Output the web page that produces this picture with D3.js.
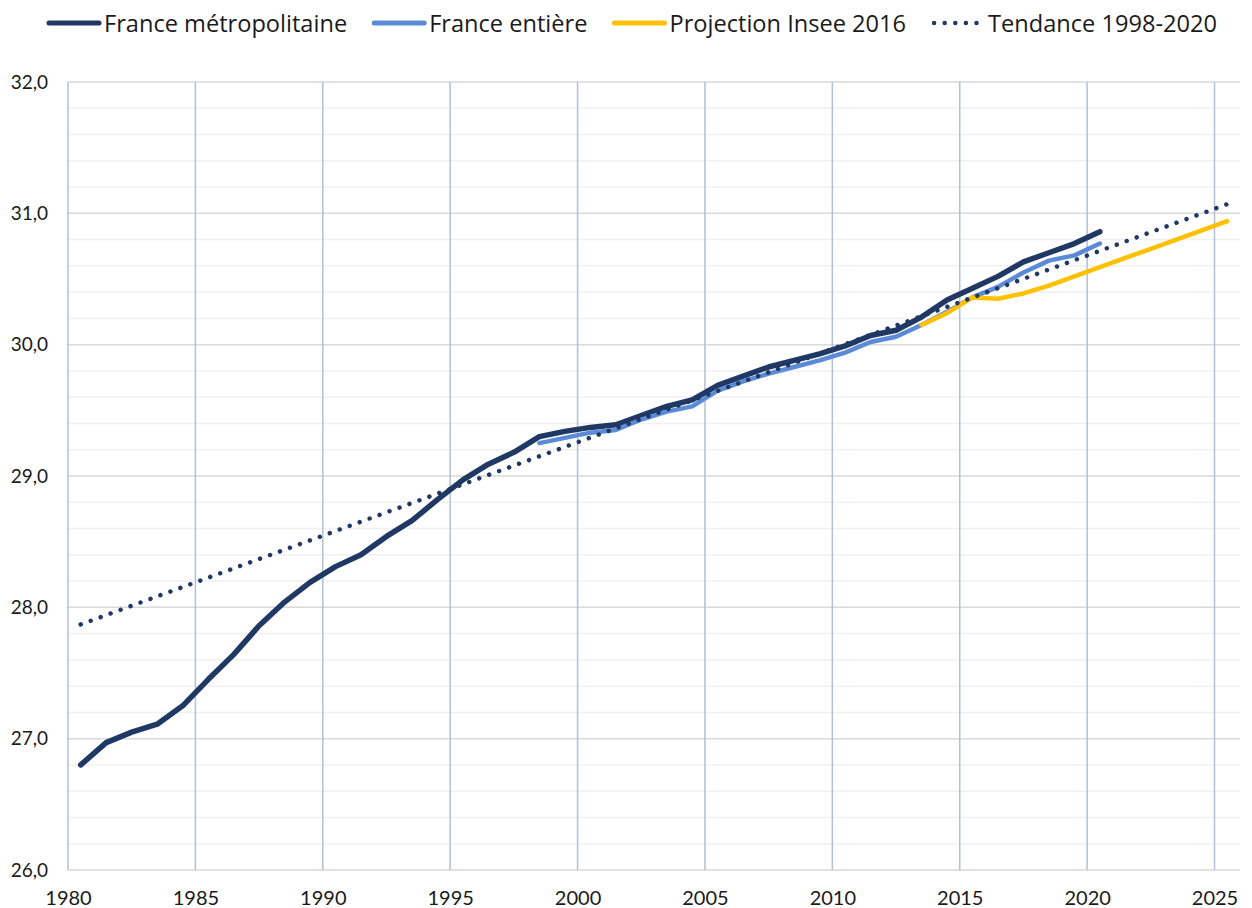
<!DOCTYPE html>
<html>
<head>
<meta charset="utf-8">
<script src="https://cdn.jsdelivr.net/npm/d3@7"></script>
<style>
  body { margin: 0; background: #fff; }
  svg text { font-family: Lato, "Liberation Sans", sans-serif; fill: #1a1a1a; }
</style>
</head>
<body>
<div id="chart"></div>
<script>
// x categories (years)
var years = [1980, 1981, 1982, 1983, 1984, 1985, 1986, 1987, 1988, 1989,
             1990, 1991, 1992, 1993, 1994, 1995, 1996, 1997, 1998, 1999,
             2000, 2001, 2002, 2003, 2004, 2005, 2006, 2007, 2008, 2009,
             2010, 2011, 2012, 2013, 2014, 2015, 2016, 2017, 2018, 2019,
             2020, 2021, 2022, 2023, 2024, 2025];

// France métropolitaine, 1980-2020
var metro = [26.80, 26.97, 27.05, 27.11, 27.25, 27.45, 27.64, 27.86, 28.04, 28.19,
             28.31, 28.40, 28.54, 28.66, 28.82, 28.97, 29.09, 29.18, 29.30, 29.34,
             29.37, 29.39, 29.46, 29.53, 29.58, 29.69, 29.76, 29.83, 29.88, 29.93,
             29.99, 30.07, 30.11, 30.21, 30.34, 30.43, 30.52, 30.63, 30.70, 30.77,
             30.86, null, null, null, null, null];

// France entière, 1998-2020
var entiere = [null, null, null, null, null, null, null, null, null, null,
               null, null, null, null, null, null, null, null, 29.25, 29.29,
               29.33, 29.35, 29.43, 29.49, 29.53, 29.65, 29.72, 29.78, 29.83, 29.88,
               29.94, 30.02, 30.06, 30.15, 30.25, 30.36, 30.44, 30.55, 30.64, 30.68,
               30.77, null, null, null, null, null];

// Projection Insee 2016, 2013-2025
var projection = [null, null, null, null, null, null, null, null, null, null,
                  null, null, null, null, null, null, null, null, null, null,
                  null, null, null, null, null, null, null, null, null, null,
                  null, null, null, 30.15, 30.24, 30.36, 30.35, 30.39, 30.45, 30.52,
                  30.59, 30.66, 30.73, 30.80, 30.87, 30.94];

// linear trend 1998-2020, extended over the whole axis (end points)
var trendYears = [1980, 2025];
var trendValues = [27.87, 31.07];

var xTicks = [1980, 1985, 1990, 1995, 2000, 2005, 2010, 2015, 2020, 2025];
var yTicks = [26, 27, 28, 29, 30, 31, 32];

var seriesNames = ["France métropolitaine", "France entière", "Projection Insee 2016", "Tendance 1998-2020"];
var seriesColors = ["#1f3864", "#5b8bd7", "#ffc000", "#1f3864"];

var W = 1252, H = 908;
var margin = { top: 82, right: 12, bottom: 38, left: 68 };
var width = W - margin.left - margin.right,
    height = H - margin.top - margin.bottom;

var svg = d3.select("#chart").append("svg")
    .attr("width", W)
    .attr("height", H);

var g = svg.append("g")
    .attr("transform", "translate(" + margin.left + "," + margin.top + ")");

var x = d3.scaleLinear().domain([1980, 2026]).range([0, width]);
var y = d3.scaleLinear().domain([26, 32]).range([height, 0]);

var fr = d3.formatLocale({ decimal: ",", thousands: " ", grouping: [3], currency: ["", " €"] });
var fmt = fr.format(".1f");

// minor horizontal grid (0.2 steps)
var minor = d3.range(26.2, 32, 0.2).filter(function(v) { return Math.abs(v - Math.round(v)) > 0.01; });
g.append("g").selectAll("line")
    .data(minor)
    .enter().append("line")
    .attr("x1", 0).attr("x2", width)
    .attr("y1", function(d) { return y(d); })
    .attr("y2", function(d) { return y(d); })
    .style("stroke", "#f0f0f0")
    .style("stroke-width", 1.5);

// major horizontal grid
g.append("g").selectAll("line")
    .data(yTicks)
    .enter().append("line")
    .attr("x1", 0).attr("x2", width)
    .attr("y1", function(d) { return y(d); })
    .attr("y2", function(d) { return y(d); })
    .style("stroke", "#d9d9d9")
    .style("stroke-width", 1.5);

// vertical grid
g.append("g").selectAll("line")
    .data(xTicks)
    .enter().append("line")
    .attr("x1", function(d) { return x(d); })
    .attr("x2", function(d) { return x(d); })
    .attr("y1", 0).attr("y2", height)
    .style("stroke", "#b4bfd2")
    .style("stroke-width", 1.5);

// Y axis labels
g.append("g")
    .call(d3.axisLeft(y).tickValues(yTicks).tickFormat(fmt).tickSize(0).tickPadding(20))
    .call(function(a) { a.select(".domain").remove(); })
    .selectAll("text")
    .style("font-size", "19px")
    .style("font-family", "Lato, 'Liberation Sans', sans-serif")
    .style("fill", "#1a1a1a");

// X axis labels
g.append("g")
    .attr("transform", "translate(0," + height + ")")
    .call(d3.axisBottom(x).tickValues(xTicks).tickFormat(d3.format("d")).tickSize(0).tickPadding(21))
    .call(function(a) { a.select(".domain").remove(); })
    .selectAll("text")
    .style("font-size", "20px")
    .style("font-family", "Lato, 'Liberation Sans', sans-serif")
    .style("fill", "#1a1a1a");

// each year's point sits in the middle of its year
var line = d3.line()
    .defined(function(d) { return d != null; })
    .x(function(d, i) { return x(years[i] + 0.5); })
    .y(function(d) { return y(d); });

function drawSeries(values, color, w) {
    g.append("path")
        .datum(values)
        .attr("d", line)
        .style("fill", "none")
        .style("stroke", color)
        .style("stroke-width", w)
        .style("stroke-linejoin", "round")
        .style("stroke-linecap", "round");
}

drawSeries(metro, seriesColors[0], 5.5);
drawSeries(entiere, seriesColors[1], 4.5);
drawSeries(projection, seriesColors[2], 4.5);

var trendLine = d3.line()
    .x(function(d, i) { return x(trendYears[i] + 0.5); })
    .y(function(d) { return y(d); });

g.append("path")
    .datum(trendValues)
    .attr("d", trendLine)
    .style("fill", "none")
    .style("stroke", seriesColors[3])
    .style("stroke-width", 4.5)
    .style("stroke-linecap", "round")
    .style("stroke-dasharray", "0.01 10.6");

// legend
var legend = svg.append("g").attr("transform", "translate(47,23)");
var lx = 0;
seriesNames.forEach(function(name, i) {
    var item = legend.append("g").attr("transform", "translate(" + lx + ",0)");
    var sample = item.append("line")
        .attr("x1", 2).attr("x2", 52)
        .attr("y1", 0).attr("y2", 0)
        .style("stroke", seriesColors[i])
        .style("stroke-width", i === 3 ? 4.5 : 5)
        .style("stroke-linecap", "round");
    if (i === 3) sample.style("stroke-dasharray", "0.01 10.6").attr("x1", 3).attr("x2", 50);
    var t = item.append("text")
        .attr("x", 57)
        .attr("y", 8.5)
        .style("font-family", "'Open Sans', Lato, sans-serif")
        .style("font-size", "23.6px")
        .text(name);
    lx += 57 + t.node().getComputedTextLength() + 25;
});
</script>
</body>
</html>
